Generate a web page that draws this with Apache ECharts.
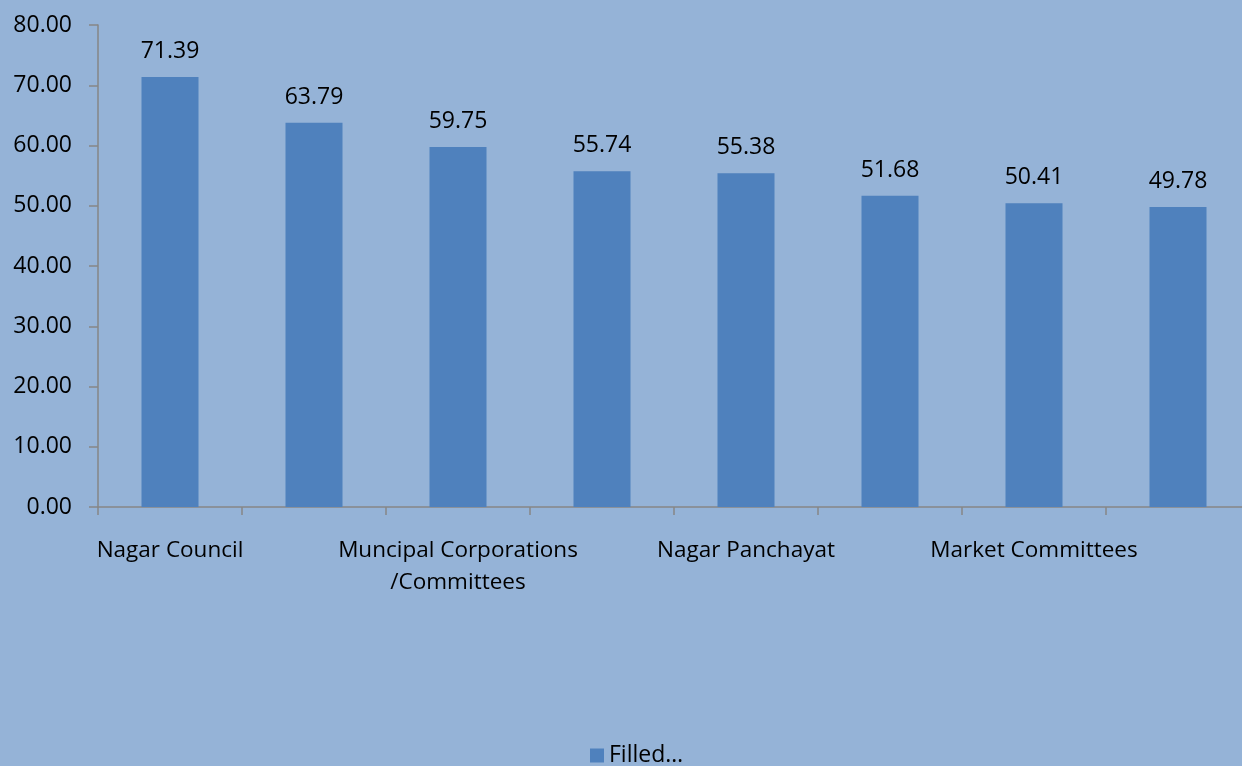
<!DOCTYPE html>
<html>
<head>
<meta charset="utf-8">
<script src="https://cdn.jsdelivr.net/npm/echarts@6/dist/echarts.min.js"></script>
<style>
html, body { margin: 0; padding: 0; background: #95B3D7; }
#chart { width: 1242px; height: 766px; }
</style>
</head>
<body>
<div id="chart"></div>
<script>
// categories (only every other one is labelled in the source chart)
var categories = ['Nagar Council', '', 'Muncipal Corporations\n/Committees', '', 'Nagar Panchayat', '', 'Market Committees', ''];
var filledValues = [71.39, 63.79, 59.75, 55.74, 55.38, 51.68, 50.41, 49.78];
var seriesName = 'Filled…';
var yTicks = { min: 0, max: 80, interval: 10 };

var font = '"Open Sans", sans-serif';
var chart = echarts.init(document.getElementById('chart'));

var option = {
    backgroundColor: '#95B3D7',
    animation: false,
    grid: {
        left: 98,
        width: 1152,
        top: 25,
        bottom: 259,
        outerBoundsMode: 'none'
    },
    legend: {
        data: [seriesName],
        left: 585,
        top: 739,
        itemWidth: 14,
        itemHeight: 14,
        itemGap: 6,
        icon: 'rect',
        textStyle: { color: '#000', fontSize: 23, fontFamily: font }
    },
    xAxis: {
        type: 'category',
        data: categories,
        axisLine: { lineStyle: { color: '#868686', width: 1.5 } },
        axisTick: { show: true, length: 8, lineStyle: { color: '#868686', width: 1.5 } },
        axisLabel: {
            interval: 0,
            color: '#000',
            fontSize: 22.5,
            fontFamily: font,
            lineHeight: 32,
            margin: 28
        }
    },
    yAxis: {
        type: 'value',
        min: yTicks.min,
        max: yTicks.max,
        interval: yTicks.interval,
        axisLine: { show: true, lineStyle: { color: '#868686', width: 1.5 } },
        axisTick: { show: true, length: 9, lineStyle: { color: '#868686', width: 1.5 } },
        splitLine: { show: false },
        axisLabel: {
            color: '#000',
            fontSize: 23,
            fontFamily: font,
            margin: 26,
            formatter: function (v) { return v.toFixed(2); }
        }
    },
    series: [{
        name: seriesName,
        type: 'bar',
        data: filledValues,
        barWidth: 57,
        itemStyle: { color: '#4F81BD' },
        label: {
            show: true,
            position: 'top',
            distance: 14,
            color: '#000',
            fontSize: 23,
            fontFamily: font,
            formatter: function (p) { return p.value.toFixed(2); }
        }
    }]
};

chart.setOption(option);
</script>
</body>
</html>
